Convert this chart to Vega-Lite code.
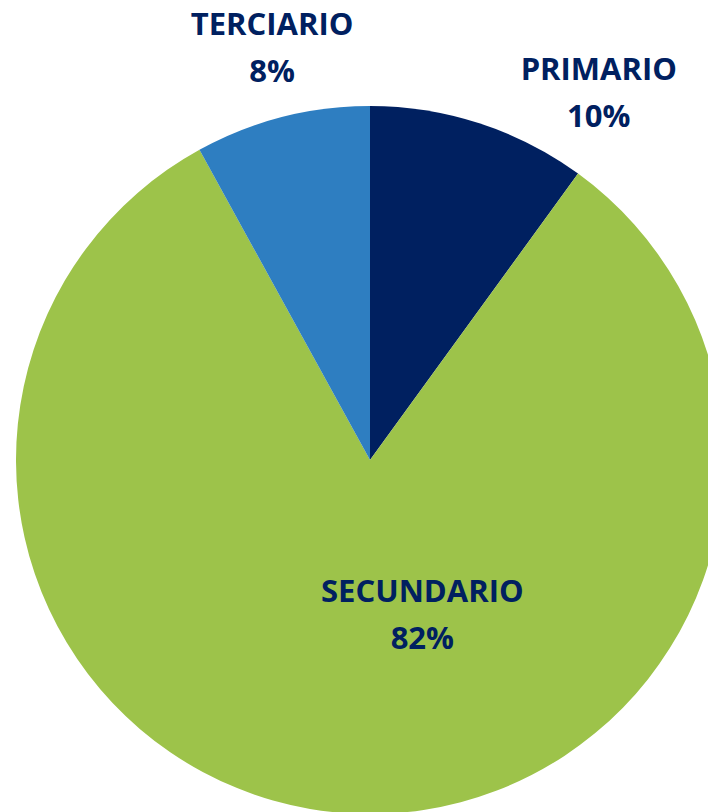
{
  "$schema": "https://vega.github.io/schema/vega-lite/v6.json",
  "width": 676,
  "height": 704,
  "autosize": {"type": "none"},
  "padding": {"left": 32, "top": 108, "right": 0, "bottom": 0},
  "background": "white",
  "view": {"stroke": null},
  "data": {
    "values": [
      {"sector": "PRIMARIO", "pct": 10, "orden": 1},
      {"sector": "SECUNDARIO", "pct": 82, "orden": 2},
      {"sector": "TERCIARIO", "pct": 8, "orden": 3}
    ]
  },
  "transform": [
    {"calculate": "datum.sector + '\\n' + datum.pct + '%'", "as": "label"}
  ],
  "encoding": {
    "theta": {"field": "pct", "type": "quantitative", "stack": true},
    "order": {"field": "orden", "type": "ordinal"}
  },
  "layer": [
    {
      "mark": {"type": "arc", "radius": 354},
      "encoding": {
        "color": {
          "field": "sector",
          "type": "nominal",
          "scale": {"domain": ["PRIMARIO", "SECUNDARIO", "TERCIARIO"], "range": ["#002060", "#9DC34A", "#2E7EC1"]},
          "legend": null
        }
      }
    },
    {
      "mark": {"type": "text", "radius": 387.5, "dx": 109, "dy": -20, "font": "Open Sans", "fontWeight": "bold", "fontSize": 31, "lineHeight": 47, "lineBreak": "\n", "color": "#002060", "align": "center", "baseline": "middle"},
      "encoding": {
        "text": {"condition": {"test": "datum.sector === 'PRIMARIO'", "field": "label"}, "value": ""}
      }
    },
    {
      "mark": {"type": "text", "radius": 154, "dx": 62, "dy": -21, "font": "Open Sans", "fontWeight": "bold", "fontSize": 31, "lineHeight": 47, "lineBreak": "\n", "color": "#002060", "align": "center", "baseline": "middle"},
      "encoding": {
        "text": {"condition": {"test": "datum.sector === 'SECUNDARIO'", "field": "label"}, "value": ""}
      }
    },
    {
      "mark": {"type": "text", "radius": 426, "dx": 8, "dy": -21, "font": "Open Sans", "fontWeight": "bold", "fontSize": 31, "lineHeight": 47, "lineBreak": "\n", "color": "#002060", "align": "center", "baseline": "middle"},
      "encoding": {
        "text": {"condition": {"test": "datum.sector === 'TERCIARIO'", "field": "label"}, "value": ""}
      }
    }
  ]
}
